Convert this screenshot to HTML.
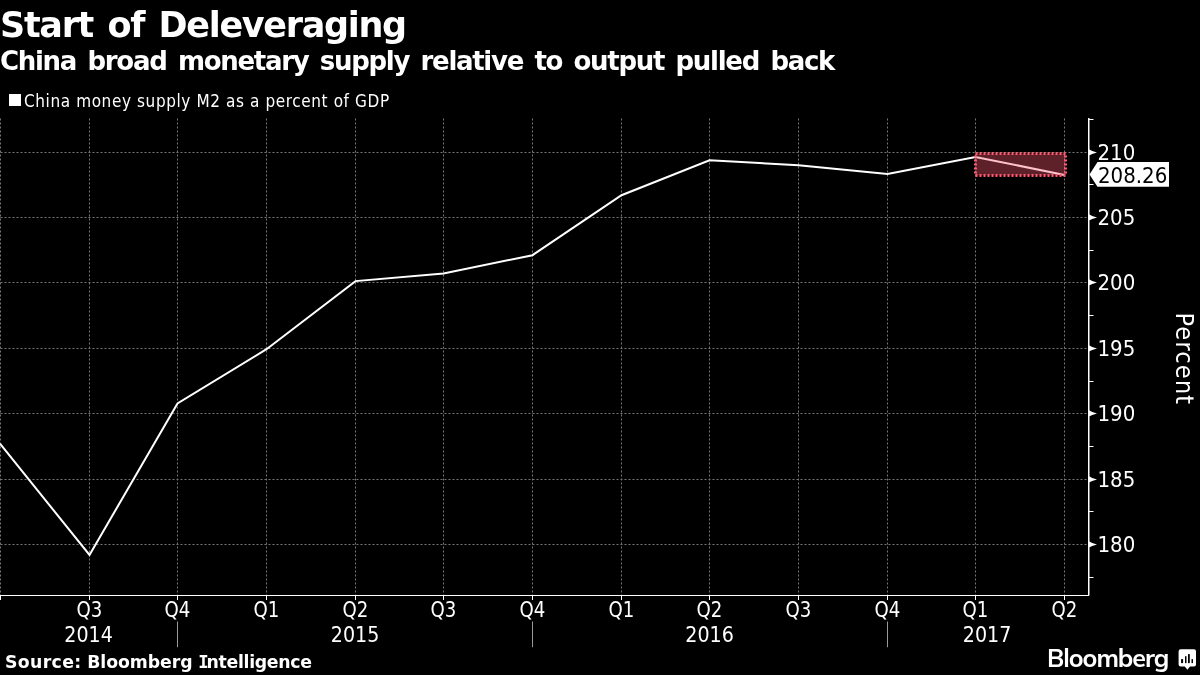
<!DOCTYPE html>
<html><head><meta charset="utf-8"><style>
html,body{margin:0;padding:0;background:#000;}
body{width:1200px;height:675px;position:relative;overflow:hidden;color:#fff;font-family:"DejaVu Sans","Liberation Sans",sans-serif;}
.t{position:absolute;white-space:nowrap;}
#title{left:0;top:4px;font-weight:bold;font-size:35px;letter-spacing:-1.3px;word-spacing:3.5px;line-height:43px;}
#sub{left:0;top:46px;font-weight:bold;font-size:26px;letter-spacing:-1.3px;word-spacing:3.7px;line-height:31px;}
#leg{left:24px;top:90px;font-size:17px;font-stretch:condensed;letter-spacing:0.6px;line-height:22px;}
#leg i{position:absolute;left:-15px;top:4px;width:12px;height:12px;background:#fff;}
.mi{font-family:"DejaVu Sans Mono","DejaVu Sans",monospace;font-weight:bold;letter-spacing:-2.2px;}
.s1{letter-spacing:0.35px;}
.s2{letter-spacing:-0.05px;}
#src{left:5px;top:651px;font-weight:bold;font-size:17.3px;word-spacing:0px;letter-spacing:-0.3px;line-height:22px;}
#logo{left:1047px;top:642px;font-family:"Mulish","Liberation Sans",sans-serif;font-weight:700;font-size:25px;letter-spacing:-1px;line-height:normal;}
svg{position:absolute;left:0;top:0;}
.gr{stroke:#777;stroke-width:1;stroke-dasharray:2 2;}
.ax{stroke:#fff;stroke-width:1;fill:none;}
.tk{stroke:#fff;stroke-width:1;}
.sep{stroke:#999;stroke-width:1;}
text{font-family:"DejaVu Sans","Liberation Sans",sans-serif;font-stretch:condensed;fill:#fff;}
.yl{font-size:22px;}
.xl{font-size:22px;}
</style></head><body>
<div class="t" id="title">Start of Deleveraging</div>
<div class="t" id="sub">China broad monetary supply relative to output pulled back</div>
<div class="t" id="leg"><i></i>China money supply M2 as a percent of GDP</div>
<svg width="1200" height="675" viewBox="0 0 1200 675">
<line x1="0.5" y1="118.5" x2="0.5" y2="595" class="gr"/>
<line x1="89.5" y1="118.5" x2="89.5" y2="595" class="gr"/>
<line x1="177.5" y1="118.5" x2="177.5" y2="595" class="gr"/>
<line x1="266.5" y1="118.5" x2="266.5" y2="595" class="gr"/>
<line x1="355.5" y1="118.5" x2="355.5" y2="595" class="gr"/>
<line x1="443.5" y1="118.5" x2="443.5" y2="595" class="gr"/>
<line x1="532.5" y1="118.5" x2="532.5" y2="595" class="gr"/>
<line x1="621.5" y1="118.5" x2="621.5" y2="595" class="gr"/>
<line x1="709.5" y1="118.5" x2="709.5" y2="595" class="gr"/>
<line x1="798.5" y1="118.5" x2="798.5" y2="595" class="gr"/>
<line x1="887.5" y1="118.5" x2="887.5" y2="595" class="gr"/>
<line x1="975.5" y1="118.5" x2="975.5" y2="595" class="gr"/>
<line x1="1064.5" y1="118.5" x2="1064.5" y2="595" class="gr"/>
<line x1="0.5" y1="152.5" x2="1088" y2="152.5" class="gr"/>
<line x1="0.5" y1="217.5" x2="1088" y2="217.5" class="gr"/>
<line x1="0.5" y1="282.5" x2="1088" y2="282.5" class="gr"/>
<line x1="0.5" y1="348.5" x2="1088" y2="348.5" class="gr"/>
<line x1="0.5" y1="413.5" x2="1088" y2="413.5" class="gr"/>
<line x1="0.5" y1="479.5" x2="1088" y2="479.5" class="gr"/>
<line x1="0.5" y1="544.5" x2="1088" y2="544.5" class="gr"/>
<path d="M0,443.6 L89.5,555 L177.5,403.4 L266.5,349.2 L355.5,281.1 L443.5,273.4 L532.5,255.2 L621.5,195.2 L709.5,160.2 L798.5,165.2 L887.5,174.0 L975.5,156.9 L1064.5,175.0" fill="none" stroke="#fff" stroke-width="2" stroke-linejoin="miter"/>
<rect x="975.5" y="153.5" width="90" height="22" fill="rgba(255,90,115,0.37)" stroke="#ff5a73" stroke-width="3" stroke-dasharray="2 2"/>
<path d="M0,595.5 H1089 V118" class="ax"/>
<line x1="0.5" y1="596" x2="0.5" y2="600" class="tk"/>
<line x1="89.5" y1="596" x2="89.5" y2="600" class="tk"/>
<line x1="177.5" y1="596" x2="177.5" y2="600" class="tk"/>
<line x1="266.5" y1="596" x2="266.5" y2="600" class="tk"/>
<line x1="355.5" y1="596" x2="355.5" y2="600" class="tk"/>
<line x1="443.5" y1="596" x2="443.5" y2="600" class="tk"/>
<line x1="532.5" y1="596" x2="532.5" y2="600" class="tk"/>
<line x1="621.5" y1="596" x2="621.5" y2="600" class="tk"/>
<line x1="709.5" y1="596" x2="709.5" y2="600" class="tk"/>
<line x1="798.5" y1="596" x2="798.5" y2="600" class="tk"/>
<line x1="887.5" y1="596" x2="887.5" y2="600" class="tk"/>
<line x1="975.5" y1="596" x2="975.5" y2="600" class="tk"/>
<line x1="1064.5" y1="596" x2="1064.5" y2="600" class="tk"/>
<line x1="1089" y1="119.5" x2="1093.5" y2="119.5" class="tk"/>
<line x1="1089" y1="184.5" x2="1093.5" y2="184.5" class="tk"/>
<line x1="1089" y1="250.5" x2="1093.5" y2="250.5" class="tk"/>
<line x1="1089" y1="315.5" x2="1093.5" y2="315.5" class="tk"/>
<line x1="1089" y1="381.5" x2="1093.5" y2="381.5" class="tk"/>
<line x1="1089" y1="446.5" x2="1093.5" y2="446.5" class="tk"/>
<line x1="1089" y1="511.5" x2="1093.5" y2="511.5" class="tk"/>
<line x1="1089" y1="577.5" x2="1093.5" y2="577.5" class="tk"/>
<path d="M1089,149.3 Q1091.5,151.1 1097,152.4 Q1091.5,153.7 1089,155.5 Z" fill="#fff"/>
<path d="M1089,214.3 Q1091.5,216.1 1097,217.4 Q1091.5,218.7 1089,220.5 Z" fill="#fff"/>
<path d="M1089,279.3 Q1091.5,281.1 1097,282.4 Q1091.5,283.7 1089,285.5 Z" fill="#fff"/>
<path d="M1089,345.3 Q1091.5,347.1 1097,348.4 Q1091.5,349.7 1089,351.5 Z" fill="#fff"/>
<path d="M1089,410.3 Q1091.5,412.1 1097,413.4 Q1091.5,414.7 1089,416.5 Z" fill="#fff"/>
<path d="M1089,476.3 Q1091.5,478.1 1097,479.4 Q1091.5,480.7 1089,482.5 Z" fill="#fff"/>
<path d="M1089,541.3 Q1091.5,543.1 1097,544.4 Q1091.5,545.7 1089,547.5 Z" fill="#fff"/>
<line x1="1088.5" y1="118" x2="1088.5" y2="596" stroke="#fff" stroke-width="1"/>
<path d="M1089.5,174.4 L1097.5,162 H1169 V186.8 H1097.5 Z" fill="#fff"/>
<text x="1098" y="182.8" class="yl" style="fill:#000">208.26</text>
<text x="1097.5" y="160.2" class="yl">210</text>
<text x="1097.5" y="225.2" class="yl">205</text>
<text x="1097.5" y="290.2" class="yl">200</text>
<text x="1097.5" y="356.2" class="yl">195</text>
<text x="1097.5" y="421.2" class="yl">190</text>
<text x="1097.5" y="487.2" class="yl">185</text>
<text x="1097.5" y="552.2" class="yl">180</text>
<text x="89.5" y="617" class="xl" text-anchor="middle" textLength="25.8" lengthAdjust="spacingAndGlyphs">Q3</text>
<text x="177.5" y="617" class="xl" text-anchor="middle" textLength="25.8" lengthAdjust="spacingAndGlyphs">Q4</text>
<text x="266.5" y="617" class="xl" text-anchor="middle" textLength="25.8" lengthAdjust="spacingAndGlyphs">Q1</text>
<text x="355.5" y="617" class="xl" text-anchor="middle" textLength="25.8" lengthAdjust="spacingAndGlyphs">Q2</text>
<text x="443.5" y="617" class="xl" text-anchor="middle" textLength="25.8" lengthAdjust="spacingAndGlyphs">Q3</text>
<text x="532.5" y="617" class="xl" text-anchor="middle" textLength="25.8" lengthAdjust="spacingAndGlyphs">Q4</text>
<text x="621.5" y="617" class="xl" text-anchor="middle" textLength="25.8" lengthAdjust="spacingAndGlyphs">Q1</text>
<text x="709.5" y="617" class="xl" text-anchor="middle" textLength="25.8" lengthAdjust="spacingAndGlyphs">Q2</text>
<text x="798.5" y="617" class="xl" text-anchor="middle" textLength="25.8" lengthAdjust="spacingAndGlyphs">Q3</text>
<text x="887.5" y="617" class="xl" text-anchor="middle" textLength="25.8" lengthAdjust="spacingAndGlyphs">Q4</text>
<text x="975.5" y="617" class="xl" text-anchor="middle" textLength="25.8" lengthAdjust="spacingAndGlyphs">Q1</text>
<text x="1064.5" y="617" class="xl" text-anchor="middle" textLength="25.8" lengthAdjust="spacingAndGlyphs">Q2</text>
<text x="88.5" y="642" class="xl" text-anchor="middle" textLength="48.5" lengthAdjust="spacingAndGlyphs">2014</text>
<text x="355" y="642" class="xl" text-anchor="middle" textLength="48.5" lengthAdjust="spacingAndGlyphs">2015</text>
<text x="709.5" y="642" class="xl" text-anchor="middle" textLength="48.5" lengthAdjust="spacingAndGlyphs">2016</text>
<text x="987" y="642" class="xl" text-anchor="middle" textLength="48.5" lengthAdjust="spacingAndGlyphs">2017</text>
<line x1="177.5" y1="621.5" x2="177.5" y2="647.2" class="sep"/>
<line x1="532.5" y1="621.5" x2="532.5" y2="647.2" class="sep"/>
<line x1="887.5" y1="621.5" x2="887.5" y2="647.2" class="sep"/>
<text transform="translate(1175.5,312.5) rotate(90)" style="font-size:25px;letter-spacing:1.2px">Percent</text>
<g fill="#fff">
<path d="M1180.6,649.3 h13.4 a2,2 0 0 1 2,2 v13.3 a2,2 0 0 1 -2,2 h-4 l-2.6,3.2 l-2.6,-3.2 h-4.2 a2,2 0 0 1 -2,-2 v-13.3 a2,2 0 0 1 2,-2 z"/>
</g>
<g fill="#000">
<rect x="1181.1" y="659.1" width="2" height="4"/>
<rect x="1185" y="656.2" width="1.5" height="6.9"/>
<rect x="1188" y="654.1" width="1.8" height="9"/>
<rect x="1191.5" y="659.1" width="1.5" height="4"/>
</g>
</svg>
<div class="t" id="src"><span class="s1">Source:</span> <span class="s2">Bloomberg</span> <span class="mi">I</span>ntelligence</div>
<div class="t" id="logo">Bloomberg</div>
</body></html>
